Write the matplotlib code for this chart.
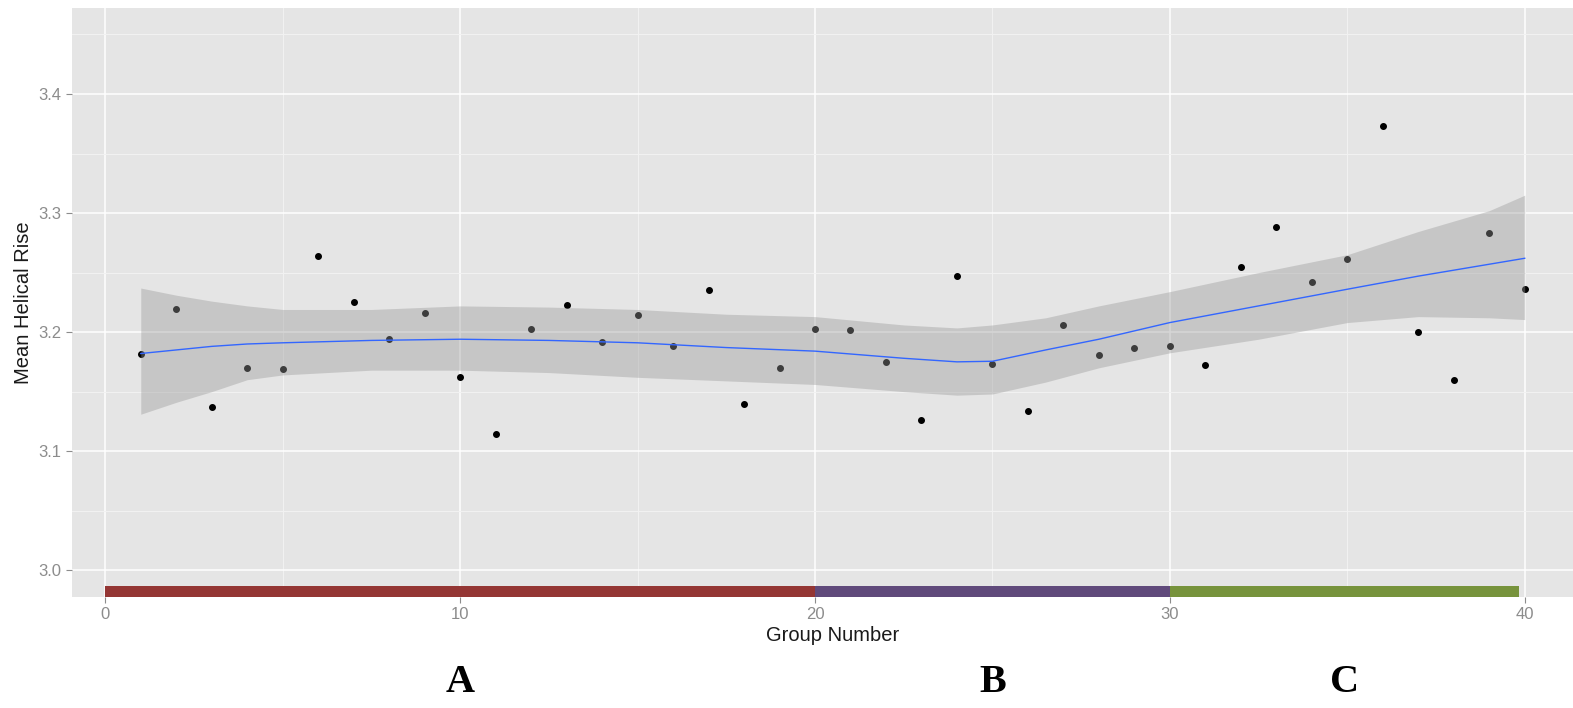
import numpy as np
import matplotlib.pyplot as plt
from matplotlib.transforms import blended_transform_factory

# points
group = np.arange(1, 41)
rise = [3.182, 3.219, 3.137, 3.170, 3.169, 3.264, 3.225, 3.194, 3.216, 3.162,
        3.114, 3.203, 3.223, 3.192, 3.214, 3.188, 3.235, 3.140, 3.170, 3.203,
        3.202, 3.175, 3.126, 3.247, 3.173, 3.134, 3.206, 3.181, 3.187, 3.188,
        3.172, 3.255, 3.288, 3.242, 3.261, 3.373, 3.200, 3.160, 3.283, 3.236]

# loess curve and its band, read at a few x positions
smooth_x = [1, 2, 3, 4, 5, 7.5, 10, 12.5, 15, 17.5, 20, 22.5, 24, 25, 26.5,
            28, 30, 32.5, 35, 37, 39, 40]
smooth_fit = [3.182, 3.185, 3.188, 3.190, 3.191, 3.193, 3.194, 3.193, 3.191,
              3.187, 3.184, 3.178, 3.175, 3.1755, 3.185, 3.194, 3.208, 3.222,
              3.236, 3.247, 3.257, 3.262]
smooth_hi = [3.237, 3.231, 3.226, 3.222, 3.219, 3.219, 3.222, 3.221, 3.219,
             3.215, 3.213, 3.206, 3.2035, 3.206, 3.212, 3.222, 3.234, 3.250,
             3.265, 3.2845, 3.302, 3.315]
smooth_lo = [3.131, 3.141, 3.150, 3.160, 3.164, 3.168, 3.168, 3.166, 3.162,
             3.159, 3.156, 3.150, 3.147, 3.148, 3.158, 3.170, 3.1826, 3.194,
             3.208, 3.213, 3.212, 3.2105]

# coloured segments along the bottom
seg_start = [0, 20, 30]
seg_end = [20, 30, 39.84]
seg_level = 2.982
seg_colors = ['#943634', '#604A7B', '#77933C']
seg_names = ['A', 'B', 'C']

fig = plt.figure(figsize=(15.73, 7.08), dpi=100)
ax = fig.add_axes([0.0455, 0.157, 0.9678, 0.8313])
ax.set_facecolor('#E5E5E5')
for s in ax.spines.values():
    s.set_visible(False)

ax.set_xlim(-0.95, 41.95)
ax.set_ylim(2.9776, 3.472)
ax.set_xticks([0, 10, 20, 30, 40])
ax.set_xticks([5, 15, 25, 35], minor=True)
ax.set_yticks([3.0, 3.1, 3.2, 3.3, 3.4])
ax.set_yticks([3.05, 3.15, 3.25, 3.35, 3.45], minor=True)
ax.set_yticklabels(['3.0', '3.1', '3.2', '3.3', '3.4'])
ax.grid(which='major', color='white', lw=1.1)
ax.grid(which='minor', color='#F2F2F2', lw=0.7)
ax.set_axisbelow(True)
ax.tick_params(which='major', length=4.5, width=0.8, color='#8C8C8C',
               labelcolor='#8C8C8C', labelsize=12, pad=3)
ax.tick_params(which='minor', length=0)
for lab in ax.get_xticklabels() + ax.get_yticklabels():
    lab.set_family('Liberation Sans')

# points first, band on top (like ggplot layer order)
ax.scatter(group, rise, s=16, color='black', zorder=3)
ax.fill_between(smooth_x, smooth_lo, smooth_hi, color='#999999', alpha=0.4,
                lw=0, zorder=4)
ax.plot(smooth_x, smooth_fit, color='#3366FF', lw=1.0, zorder=5)

widths = np.array(seg_end) - np.array(seg_start)
ax.barh(seg_level, widths, left=seg_start, height=0.0086, color=seg_colors,
        zorder=6)

ax.set_xlabel('Group Number', family='Liberation Sans', fontsize=14.5,
              color='#1A1A1A', labelpad=3)
ax.set_ylabel('Mean Helical Rise', family='Liberation Sans', fontsize=14.5,
              color='#1A1A1A')
ax.yaxis.set_label_coords(-0.0254, 0.5)

trans = blended_transform_factory(ax.transData, fig.transFigure)
for a, b, name in zip(seg_start, seg_end, seg_names):
    fig.text((a + b) / 2, 0.036, name, transform=trans, ha='center',
             va='center', family='Liberation Serif', fontweight='bold',
             fontsize=29)

fig.savefig('out.png', dpi=100)
